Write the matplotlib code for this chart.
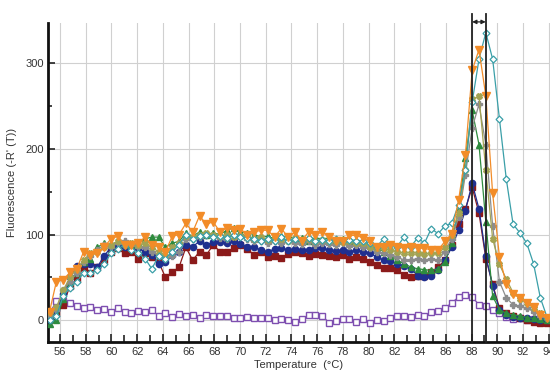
import numpy as np
import matplotlib
matplotlib.use("Agg")
import matplotlib.pyplot as plt

# Temperature sampling grid (deg C)
temps = np.round(55.19 + 0.53 * np.arange(74), 2)

red = [2, 8, 18, 40, 48, 62, 55, 62, 70, 80, 84, 78, 80, 72, 78, 74, 68, 50, 56, 62,
       85, 70, 80, 76, 88, 80, 80, 84, 88, 83, 76, 80, 74, 75, 73, 77, 80, 78, 75, 77,
       76, 75, 74, 76, 72, 74, 72, 68, 64, 61, 61, 58, 53, 50, 51, 52, 56, 62, 70, 88,
       112, 130, 155, 125, 72, 42, 14, 8, 5, 3, 0, -2, -3, -3]
blue = [0, 12, 30, 50, 63, 65, 66, 62, 75, 85, 88, 86, 85, 84, 80, 76, 66, 68, 76, 80,
        88, 86, 92, 88, 91, 91, 90, 92, 89, 86, 85, 82, 80, 83, 84, 82, 83, 82, 82, 84,
        84, 82, 81, 82, 80, 82, 80, 78, 74, 70, 69, 66, 63, 60, 52, 50, 52, 58, 70, 85,
        105, 128, 160, 130, 75, 40, 12, 6, 4, 3, 2, 1, 0, 0]
green = [-5, 0, 25, 45, 55, 68, 72, 85, 90, 88, 92, 90, 88, 90, 95, 97, 97, 85, 90, 92,
         102, 98, 103, 100, 102, 100, 105, 108, 103, 102, 100, 97, 98, 95, 98, 97, 96, 96, 93, 96,
         95, 96, 94, 95, 93, 92, 90, 88, 85, 80, 75, 70, 66, 62, 60, 59, 58, 60, 68, 90,
         130, 190, 245, 205, 115, 28, 12, 8, 6, 5, 3, 2, 1, 0]
gray = [5, 12, 35, 45, 55, 68, 75, 82, 88, 85, 90, 92, 88, 86, 85, 80, 75, 72, 75, 80,
        95, 95, 97, 100, 98, 96, 95, 100, 98, 95, 93, 92, 90, 93, 90, 92, 90, 89, 92, 88,
        90, 89, 88, 90, 87, 88, 85, 84, 80, 78, 76, 74, 70, 70, 72, 70, 72, 70, 80, 95,
        120, 170, 225, 252, 205, 110, 45, 26, 18, 16, 14, 10, 5, 2]
khaki = [10, 15, 35, 50, 60, 70, 78, 80, 85, 88, 92, 88, 90, 88, 90, 85, 80, 75, 85, 90,
         98, 97, 100, 102, 100, 98, 100, 97, 98, 97, 95, 97, 94, 96, 95, 93, 96, 94, 95, 93,
         94, 92, 93, 91, 92, 90, 90, 86, 84, 84, 82, 80, 78, 79, 78, 77, 78, 78, 85, 100,
         125, 175, 258, 262, 175, 95, 65, 48, 32, 25, 20, 14, 8, 3]
teal = [0, 5, 28, 38, 45, 55, 55, 58, 65, 78, 83, 88, 82, 78, 72, 60, 75, 72, 80, 88,
        100, 95, 98, 100, 97, 98, 96, 100, 97, 96, 95, 92, 95, 93, 97, 92, 95, 93, 96, 92,
        94, 93, 95, 92, 94, 93, 93, 90, 86, 95, 88, 86, 97, 86, 96, 90, 107, 101, 110, 113,
        135, 175, 255, 305, 336, 305, 235, 165, 112, 102, 90, 66, 26, 3]
orange = [10, 45, 47, 56, 60, 80, 76, 78, 85, 95, 98, 88, 88, 90, 97, 88, 86, 80, 98, 100,
          113, 103, 122, 112, 115, 103, 108, 105, 107, 99, 103, 105, 105, 97, 107, 97, 103, 93, 103, 100,
          103, 97, 93, 92, 99, 99, 96, 92, 86, 85, 88, 86, 84, 86, 84, 84, 82, 82, 92, 101,
          140, 193, 292, 316, 262, 148, 74, 42, 31, 26, 20, 15, 6, 2]
purple = [8, 22, 22, 20, 16, 14, 15, 12, 13, 10, 14, 10, 8, 11, 9, 12, 5, 8, 4, 7,
          5, 6, 3, 6, 5, 5, 5, 2, 3, 4, 2, 3, 2, 0, 1, 0, -2, 1, 6, 6,
          5, -3, -1, 1, 1, -2, 1, -3, 0, -1, 3, 5, 5, 4, 6, 5, 9, 11, 14, 20,
          27, 29, 27, 18, 17, 12, 8, 4, 1, 2, 0, 1, 0, 0]

peak_lines = [88.05, 89.1]
xticks = list(range(56, 96, 2))
xtick_labels = [str(t) for t in xticks]
yticks = [0, 100, 200, 300]

plt.rcParams['font.family'] = ['Liberation Sans', 'DejaVu Sans']

fig = plt.figure(figsize=(5.5, 3.71), dpi=100)
ax = fig.add_axes([0.0873, 0.0795, 0.9127, 0.858])

ax.set_xlim(55.07, 94.1)
ax.set_ylim(-25, 347)

ax.set_xticks(xticks)
ax.set_xticklabels(xtick_labels)
ax.set_xticks(list(range(56, 95)), minor=True)
ax.set_yticks(yticks)
ax.set_yticks(list(range(0, 350, 50)), minor=True)

ax.grid(True, which='major', color='#d0d0d0', linewidth=0.8)
ax.set_axisbelow(True)

for s in ['top', 'right']:
    ax.spines[s].set_visible(False)
for s in ['left', 'bottom']:
    ax.spines[s].set_linewidth(2.0)
    ax.spines[s].set_color('#111111')

ax.tick_params(axis='both', which='both', direction='in', color='#222222',
               labelsize=8, labelcolor='#333333', width=1.2)
ax.tick_params(axis='x', which='major', length=6, pad=4)
ax.tick_params(axis='x', which='minor', length=5)
ax.tick_params(axis='y', which='major', length=5, pad=3)
ax.tick_params(axis='y', which='minor', length=3)

lw = 0.9
ax.plot(temps, purple, color='#7E4FB0', lw=lw, marker='s', ms=4.2,
        mfc='white', mec='#7E4FB0', mew=1.0, zorder=3)
ax.plot(temps, red, color='#8B1A1A', lw=lw, marker='s', ms=4.5, zorder=4)
ax.plot(temps, blue, color='#1F2F8F', lw=lw, marker='o', ms=4.5, zorder=4)
ax.plot(temps, green, color='#2E8B3E', lw=lw, marker='^', ms=4.8, zorder=4)
ax.plot(temps, gray, color='#8C8C8C', lw=lw, marker='P', ms=5, zorder=4)
ax.plot(temps, khaki, color='#A3A352', lw=lw, marker='X', ms=4.2, zorder=4)
ax.plot(temps, teal, color='#3A9FA8', lw=lw, marker='D', ms=3.5,
        mfc='white', mec='#3A9FA8', mew=0.9, zorder=5)
ax.plot(temps, orange, color='#F28C28', lw=lw, marker='v', ms=6, zorder=5)

for xv in peak_lines:
    ax.plot([xv, xv], [-25, 358], color='#222222', lw=1.3, clip_on=False, zorder=6)
ax.annotate('', xy=(peak_lines[0], 348.5), xytext=(peak_lines[1], 348.5),
            arrowprops=dict(arrowstyle='<|-|>', color='#222222', lw=0.9,
                            shrinkA=0, shrinkB=0, mutation_scale=6),
            annotation_clip=False, zorder=6)

ax.set_xlabel('Temperature  (°C)', fontsize=8, color='#333333', labelpad=2)
ax.set_ylabel("Fluorescence (-R' (T))", fontsize=8, color='#333333', labelpad=6)

fig.savefig('out.png', dpi=100)
